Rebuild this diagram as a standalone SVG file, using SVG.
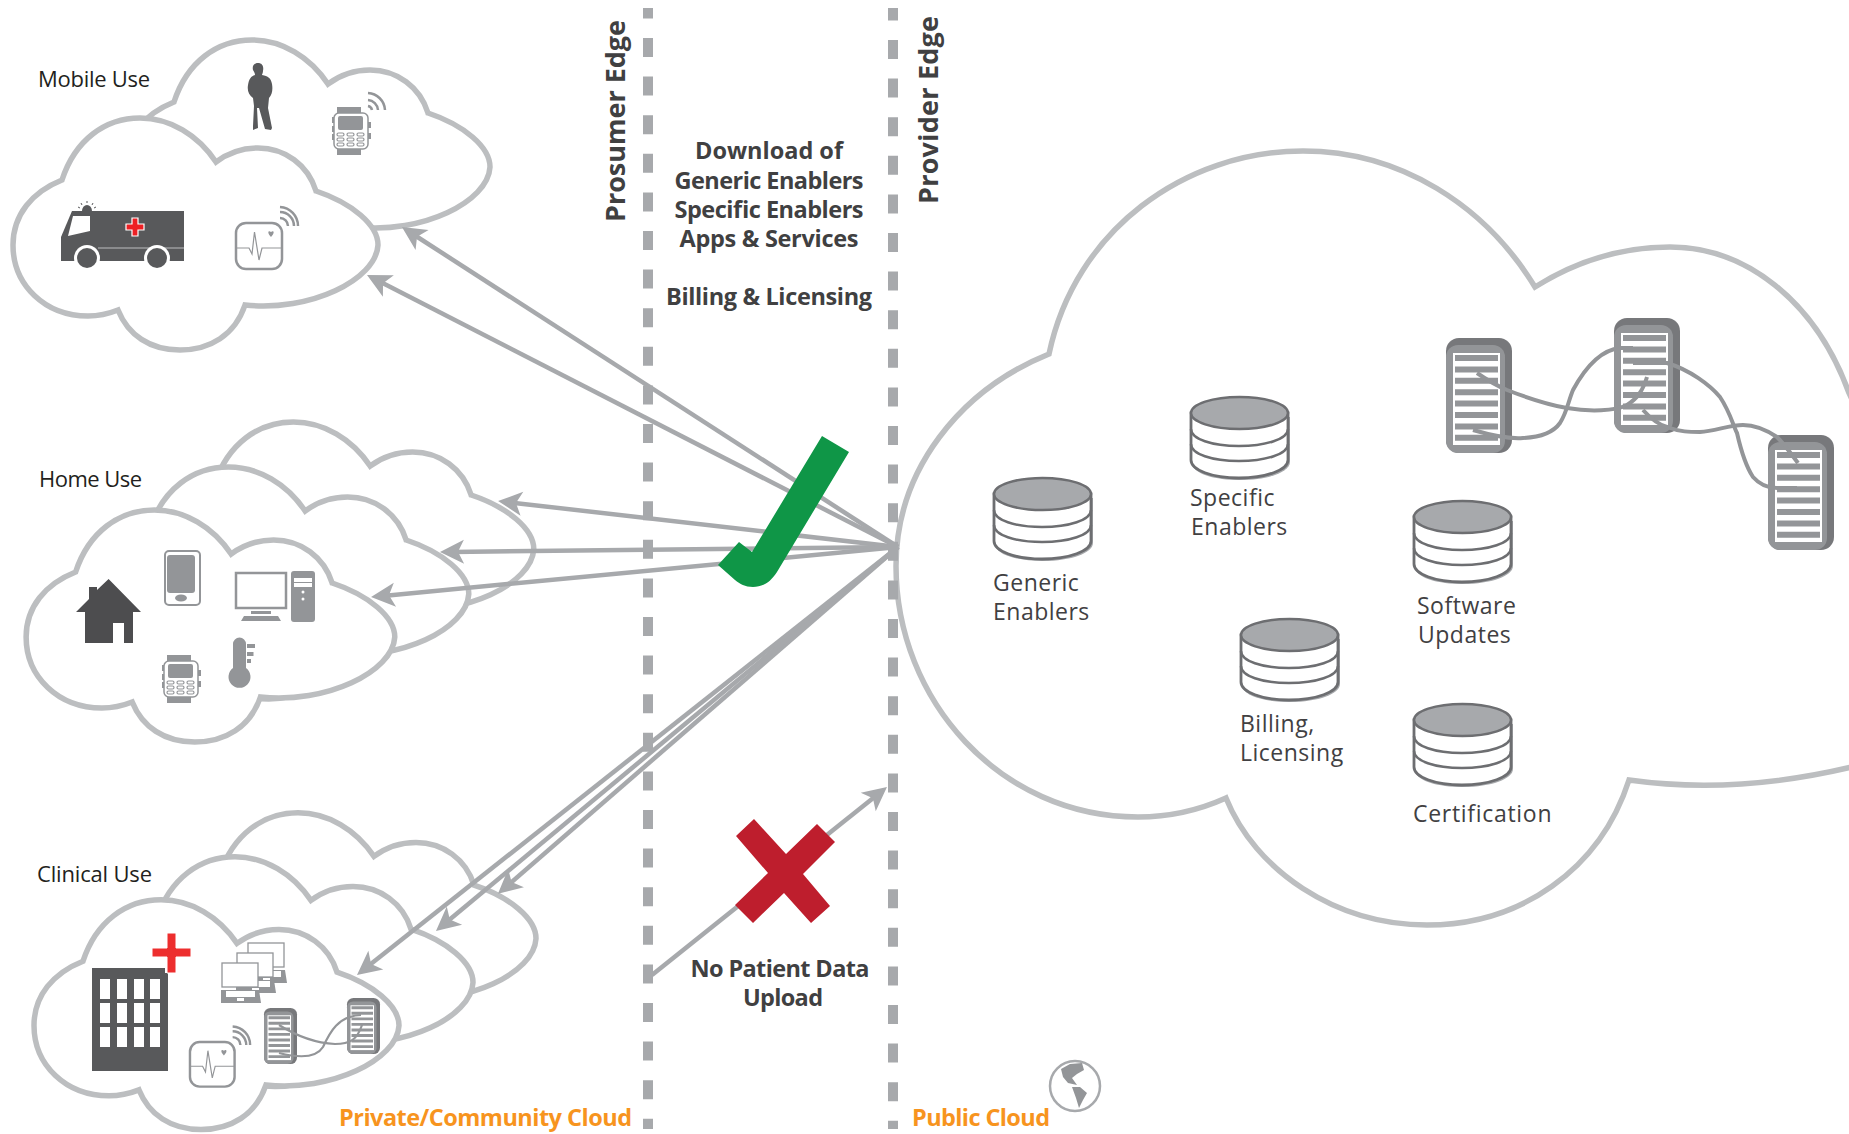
<svg xmlns="http://www.w3.org/2000/svg" width="1849" height="1134" viewBox="0 0 1849 1134">
<style>
text{font-family:"Open Sans","Noto Sans","Liberation Sans",sans-serif}
.lbl{font-size:22px;fill:#231f20}
.nlbl{font-size:23px;fill:#414042;letter-spacing:.5px}
.bd{font-size:23.500px;font-weight:700;fill:#404041;text-anchor:middle}
.edge{font-size:27px;font-weight:700;fill:#404041}
.org{font-size:23.500px;font-weight:700;fill:#f7941e}
.cl{fill:#fff;stroke:#bcbec0;stroke-width:5.500;vector-effect:non-scaling-stroke}
.ar{fill:none;stroke:#a7a9ac;stroke-width:4.500;marker-end:url(#ah)}
.dash{stroke:#a7a9ac;stroke-width:10;stroke-dasharray:19 19.6;fill:none}
.lk{fill:none;stroke:#939598;stroke-width:4}
.lk2{fill:none;stroke:#939598;stroke-width:2.200}
.wf{fill:none;stroke:#939598;stroke-width:2.500}
.ic{fill:#939598}
.dk{fill:#58595b}
.w{fill:#fff}
</style>
<defs>
<marker id="ah" markerUnits="userSpaceOnUse" markerWidth="30" markerHeight="30" refX="15" refY="15" viewBox="0 0 30 30" orient="auto"><path d="M27,15 L3,3 L9,15 L3,27 Z" fill="#a7a9ac"/></marker>
<path id="cloud" d="M62,180 C75,140 105,118 140,118 C170,118 198,135 216,162 C228,153 242,148 258,148 C285,148 308,165 316,191 C352,203 378,225 378,245 C376,280 310,312 245,305 C235,335 210,350 180,350 C150,350 128,335 118,310 C108,314 98,316 88,316 C45,316 13,285 13,245 C13,215 32,192 62,180 Z"/>
<g id="srv">
<rect x="0" y="0" width="66" height="115" rx="13" fill="#77787b"/>
<rect x="0" y="7" width="59" height="108" rx="12" fill="#939598"/>
<rect x="7" y="15" width="47" height="92" fill="#fff"/>
<path fill="#939598" d="M9,17h43v6h-43zM9,28.400h43v6h-43zM9,39.800h43v6h-43zM9,51.200h43v6h-43zM9,62.600h43v6h-43zM9,74h43v6h-43zM9,85.400h43v6h-43zM9,96.800h43v6h-43z"/>
</g>
<g id="db">
<path d="M3,21 H100 V66 C100,76 78,84 50,84 C24,84 6,78 3,70Z" fill="#a7a9ac"/>
<path d="M1,17 V64 C1,74 22,82 49,82 C76,82 98,74 98,64 V17 Z" fill="#fff" stroke="#6d6e71" stroke-width="2.800"/>
<path d="M1,33 C1,43 22,50 49,50 C76,50 98,43 98,33 M1,48 C1,58 22,65 49,65 C76,65 98,58 98,48" fill="none" stroke="#6d6e71" stroke-width="2.500"/>
<ellipse cx="49.500" cy="17" rx="48.500" ry="16" fill="#a7a9ac" stroke="#6d6e71" stroke-width="2.500"/>
</g>
<g id="watch">
<rect x="5" y="0" width="24" height="8" class="ic"/><rect x="5" y="40" width="24" height="8" class="ic"/>
<rect x="0" y="10" width="3" height="6" class="ic"/><rect x="0" y="19" width="3" height="6" class="ic"/><rect x="0" y="27" width="3" height="6" class="ic"/><rect x="36" y="15" width="3" height="6" class="ic"/><rect x="36" y="26" width="3" height="6" class="ic"/>
<rect x="2" y="6" width="34" height="36" rx="5" fill="#fff" stroke="#939598" stroke-width="1.500"/>
<rect x="6" y="9" width="25" height="14" rx="2" class="ic"/>
<g fill="none" stroke="#939598" stroke-width="1.200"><rect x="5" y="26" width="7" height="3" rx="1.500"/><rect x="15" y="26" width="7" height="3" rx="1.500"/><rect x="25" y="26" width="7" height="3" rx="1.500"/><rect x="5" y="31" width="7" height="3" rx="1.500"/><rect x="15" y="31" width="7" height="3" rx="1.500"/><rect x="25" y="31" width="7" height="3" rx="1.500"/><rect x="5" y="36" width="7" height="3" rx="1.500"/><rect x="15" y="36" width="7" height="3" rx="1.500"/><rect x="25" y="36" width="7" height="3" rx="1.500"/></g>
</g>
<g id="mon">
<rect x="1" y="1" width="46" height="46" rx="10" fill="#fff" stroke="#939598" stroke-width="2.500"/>
<path d="M1,26 H14 L17,32 L19.500,10 L24,38 L27,26 H47" fill="none" stroke="#939598" stroke-width="1.200"/>
<path d="M36,15 C32,11 33,8 36,10 C39,8 40,11 36,15Z" class="ic"/>
<path class="wf" d="M45,-4 A8,8 0 0 1 53,4 M45,-10 A14,14 0 0 1 59,4 M45,-15 A19,19 0 0 1 63,4"/>
</g>
<g id="lap">
<rect x="1" y="0" width="36" height="24" fill="#fff" stroke="#939598" stroke-width="1.300"/>
<path d="M0,27 H38 L40,40 H0Z" fill="#939598"/>
<rect x="5" y="28" width="29" height="6" fill="#fff"/><rect x="16" y="35" width="7" height="3" fill="#fff"/>
</g>
</defs>

<g id="big-cloud"><path class="cl" d="M1049,354 C1075,230 1185,151 1303,151 C1400,151 1485,205 1535,287 C1578,260 1625,247 1670,247 C1745,247 1815,300 1849,393 L1900,500 L1900,750 L1860,765 C1780,785 1700,790 1629,780 C1600,870 1520,925 1427,925 C1335,925 1255,870 1226,798 C1195,812 1165,817 1138,817 C1000,817 896,700 896,566 C896,470 960,390 1049,354 Z"/></g>

<g id="mobile-cloud">
<use href="#cloud" class="cl" transform="translate(112,-78)"/>
<use href="#cloud" class="cl"/>
<text class="lbl" x="38" y="87" textLength="112">Mobile Use</text>
<path class="dk" d="M258,63 C262,63 264,66 263,71 C263,73 262,74 262,75 C268,76 271,78 272,84 C273,90 272,95 269,98 L268,108 L272,128 L271,130 L265,129 L259,108 L257,108 L258,128 L253,130 L253,126 L254,106 L253,98 C249,95 247,91 248,85 C249,79 251,76 255,75 C255,73 254,72 253,70 C252,66 254,63 258,63Z"/>
<use href="#watch" x="332" y="107"/>
<path class="wf" d="M368,93 A18,18 0 0 1 385,110 M368,100 A11,11 0 0 1 378,110 M368,106 A5,5 0 0 1 372,110"/>
<path class="dk" d="M72,211 H184 V261 H61 V237 Z"/>
<path class="w" d="M73,216 H90 V231 L68,236 Z"/>
<path d="M98,248 H184" stroke="#bcbec0" stroke-width="1.200"/>
<circle cx="87" cy="258" r="13" class="w"/><circle cx="87" cy="258" r="10" class="dk"/>
<circle cx="157" cy="258" r="13" class="w"/><circle cx="157" cy="258" r="10" class="dk"/>
<path d="M132,218 h6 v6 h6 v6 h-6 v6 h-6 v-6 h-6 v-6 h6z" fill="#ed2024" stroke="#fff" stroke-width="1.200"/>
<path class="dk" d="M82,211 A5,6 0 0 1 92,211 Z"/>
<path d="M87,201 v2 M81,203 l1,2 M93,203 l-1,2 M78,207 l2,1 M96,207 l-2,1" stroke="#58595b" stroke-width="1"/>
<use href="#mon" x="235" y="222"/>
</g>

<g id="home-cloud">
<use href="#cloud" class="cl" transform="translate(152,304) scale(1.010,1)"/>
<use href="#cloud" class="cl" transform="translate(87,349) scale(1.010,1)"/>
<use href="#cloud" class="cl" transform="translate(13,392) scale(1.010,1)"/>
<text class="lbl" x="39" y="487" textLength="103">Home Use</text>
<path fill="#4d4d4f" d="M108.600,579 L141,612 H133 V643 H124 V623 H113 V643 H85 V612 H76 L89,599 V587 H97 V590Z"/>
<rect x="165" y="551" width="35" height="54" rx="4" fill="#fff" stroke="#939598" stroke-width="2"/>
<rect x="167" y="555" width="28" height="38" rx="3" class="ic"/>
<ellipse cx="181" cy="598" rx="6" ry="3.500" class="ic"/>
<rect x="236" y="573" width="50" height="35" fill="#fff" stroke="#939598" stroke-width="2.500"/>
<rect x="251" y="611" width="20" height="3" class="ic"/>
<path class="ic" d="M244,616 H278 L281,621 H241Z"/>
<rect x="291" y="571" width="24" height="51" rx="3" class="ic"/>
<rect x="294" y="578" width="18" height="4" class="w"/><rect x="294" y="583" width="18" height="4" class="w"/>
<circle cx="303" cy="592" r="1.500" class="w"/><circle cx="303" cy="599" r="1.500" class="w"/>
<use href="#watch" x="162" y="655"/>
<path class="ic" d="M233,644 A6.500,6.500 0 0 1 246,644 V668 A11,11 0 1 1 233,668 Z"/>
<path class="ic" d="M247,644h8v4h-8zM247,652h6.500v4h-6.500zM247,659h4v4h-4z"/>
</g>

<g id="clinical-cloud">
<use href="#cloud" class="cl" transform="translate(158,696) scale(1,.99)"/>
<use href="#cloud" class="cl" transform="translate(95,740) scale(1,.99)"/>
<use href="#cloud" class="cl" transform="translate(21,783) scale(1,.99)"/>
<text class="lbl" x="37" y="882" textLength="115">Clinical Use</text>
<path class="dk" d="M92,968 H165 V973 H168 V1071 H92Z"/>
<path class="w" d="M100,979h10v20h-10zM117,979h10v20h-10zM134,979h10v20h-10zM150,979h10v20h-10zM100,1003h10v20h-10zM117,1003h10v20h-10zM134,1003h10v20h-10zM150,1003h10v20h-10zM100,1027h10v20h-10zM117,1027h10v20h-10zM134,1027h10v20h-10zM150,1027h10v20h-10z"/>
<path fill="#ed2e2e" stroke="#fff" stroke-width="1" d="M167,933 H176 V948 H191 V957 H176 V973 H167 V957 H152 V948 H167Z"/>
<use href="#lap" x="247" y="943"/><use href="#lap" x="236" y="953"/><use href="#lap" x="221" y="963"/>
<use href="#mon" transform="translate(189,1041) scale(.97)"/>
<use href="#srv" transform="translate(264,1008) scale(.5,.487)"/>
<use href="#srv" transform="translate(347,998) scale(.5,.487)"/>
<path class="lk2" d="M279,1025 C295,1035 315,1043 335,1044 C350,1044 357,1040 362,1025"/>
<path class="lk2" d="M279,1053 C295,1057 315,1060 323,1047 C330,1032 338,1016 361,1015"/>
</g>

<g id="connectors">
<path class="ar" d="M898,547 L412,233.500"/>
<path class="ar" d="M898,547 L377.700,280.500"/>
<path class="ar" d="M898,547 L510,502.400"/>
<path class="ar" d="M898,547 L452,551.900"/>
<path class="ar" d="M898,547 L383,595.900"/>
<path class="ar" d="M898,547 L507,886"/>
<path class="ar" d="M898,547 L445.200,923.300"/>
<path class="ar" d="M898,547 L366.400,967.600"/>
<path class="ar" d="M652,975 L877.600,794.500"/>
</g>

<g id="prosumer-edge">
<path class="dash" d="M648,8 V1129" stroke-dashoffset="8.600"/>
<text class="edge" transform="translate(625,222) rotate(-90)" textLength="202">Prosumer Edge</text>
</g>
<g id="provider-edge">
<path class="dash" d="M893,8 V1129" stroke-dashoffset="6.600"/>
<text class="edge" transform="translate(938,204) rotate(-90)" textLength="188">Provider Edge</text>
</g>

<g id="check"><path fill="#0f9647" d="M822,436 L849,452 L777,572 C770,583 762,587 753,587 C745,587 740,584 735,580 L718,565 L739,542 L752,552 Z"/></g>
<g id="cross"><path fill="#be1e2d" d="M754,819 L786,854 L817,824 L835,842 L803,874 L830,906 L811,923 L784,893 L753,923 L735,905 L768,873 L736,836 Z"/></g>

<g id="downloads">
<text class="bd" x="769" y="159" textLength="148">Download of</text>
<text class="bd" x="769" y="189" textLength="189">Generic Enablers</text>
<text class="bd" x="769" y="218" textLength="189">Specific Enablers</text>
<text class="bd" x="769" y="247" textLength="179">Apps &amp; Services</text>
<text class="bd" x="769" y="305" textLength="206">Billing &amp; Licensing</text>
</g>
<g id="no-upload">
<text class="bd" x="780" y="977" textLength="179">No Patient Data</text>
<text class="bd" x="783" y="1006" textLength="80">Upload</text>
</g>

<g id="servers">
<use href="#srv" x="1446" y="338"/>
<use href="#srv" x="1614" y="318"/>
<use href="#srv" x="1768" y="435"/>
<path class="lk" d="M1477,373 C1490,382 1500,387 1507,390 C1530,399 1550,405 1567,408 C1590,412 1615,411 1627,405 C1638,398 1643,390 1647,377"/>
<path class="lk" d="M1473,430 C1490,435 1510,439 1523,438 C1545,437 1555,430 1560,423 C1567,412 1568,402 1573,390 C1585,368 1600,350 1620,348 H1633"/>
<path class="lk" d="M1633,363 H1667 C1690,370 1710,385 1720,397 C1730,412 1733,425 1737,433 C1742,455 1747,468 1753,477 C1760,485 1768,488 1777,488 H1797"/>
<path class="lk" d="M1643,410 C1652,420 1660,425 1667,427 C1680,432 1690,432 1700,432 C1715,431 1730,425 1743,425 C1755,425 1768,431 1777,437 C1785,445 1792,455 1798,463"/>
</g>

<g id="generic-enablers"><use href="#db" x="993" y="477"/><text class="nlbl" x="993" y="591">Generic</text><text class="nlbl" x="993" y="620">Enablers</text></g>
<g id="specific-enablers"><use href="#db" x="1190" y="396"/><text class="nlbl" x="1190" y="506">Specific</text><text class="nlbl" x="1191" y="535">Enablers</text></g>
<g id="software-updates"><use href="#db" x="1413" y="500"/><text class="nlbl" x="1417" y="613.500">Software</text><text class="nlbl" x="1418" y="642.500">Updates</text></g>
<g id="billing-licensing"><use href="#db" x="1240" y="618"/><text class="nlbl" x="1240" y="731.500">Billing,</text><text class="nlbl" x="1240" y="761">Licensing</text></g>
<g id="certification"><use href="#db" x="1413" y="703"/><text class="nlbl" x="1413" y="822" textLength="139">Certification</text></g>

<g id="globe">
<circle cx="1075" cy="1086" r="25" fill="#fff" stroke="#a7a9ac" stroke-width="2.500"/>
<path class="ic" d="M1061,1069 L1070,1064 L1082,1063 L1084,1070 L1077,1074 L1072,1078 L1077,1085 L1068,1083 L1063,1077Z"/>
<path class="ic" d="M1072,1087 L1080,1087 L1087,1093 L1083,1100 L1079,1108 L1076,1098Z"/>
</g>

<g id="cloud-labels">
<text class="org" x="339" y="1126" textLength="293">Private/Community Cloud</text>
<text class="org" x="912" y="1126" textLength="138">Public Cloud</text>
</g>
</svg>
